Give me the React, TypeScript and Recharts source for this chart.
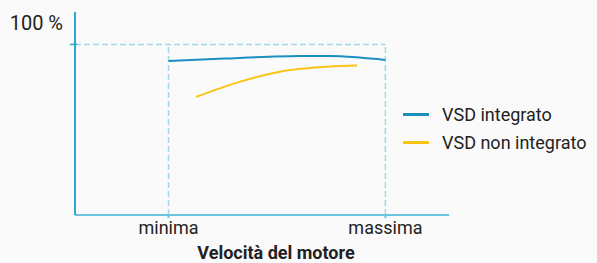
import React from 'react'
import {
  LineChart,
  Line,
  XAxis,
  YAxis,
  ReferenceLine,
  Label,
} from 'recharts'

// Velocità (0 = fermo, 100 = fondo scala)
const speedTicks = [25, 83]
const speedTickLabels = ['minima', 'massima']

const integratoX = [25, 40, 52, 60, 68, 76, 83]
const integratoY = [90.3, 91.7, 92.8, 93.2, 93.2, 92.3, 90.9]

const nonIntegratoX = [32.4, 43.3, 54.8, 68.2, 75.4]
const nonIntegratoY = [69.2, 77.6, 84.0, 87.0, 87.6]

const seriesNames = ['VSD integrato', 'VSD non integrato']

const COLORS = {
  integrato: '#1b8fc0',
  nonIntegrato: '#fbc316',
  yAxis: '#2ba8cf',
  xAxis: '#6ac4dd',
  guide: '#9fd8ec',
  text: '#222222',
}
const seriesColors = [COLORS.integrato, COLORS.nonIntegrato]

const FONT = 'Roboto, "Noto Sans", sans-serif'

const integratoData = integratoX.map((x, i) => ({ x, y: integratoY[i] }))
const nonIntegratoData = nonIntegratoX.map((x, i) => ({ x, y: nonIntegratoY[i] }))

const YTick = (props: any) => {
  const { x, y, payload } = props
  return (
    <g>
      <line x1={x + 3} x2={x + 10} y1={y} y2={y} stroke={COLORS.yAxis} strokeWidth={1.5} />
      <text x={x - 4} y={y - 14} textAnchor="end" fontSize={20} fontFamily={FONT} fill={COLORS.text}>
        {payload.value} %
      </text>
    </g>
  )
}

// legenda disegnata a parte, così non ruba spazio al grafico
const ChartLegend = () => (
  <div style={{ position: 'absolute', left: 403, top: 100, fontFamily: FONT }}>
    {seriesNames.map((name, index) => (
      <div key={name} style={{ display: 'flex', alignItems: 'center', height: 28 }}>
        <span style={{ width: 26, height: 3, background: seriesColors[index], marginRight: 13 }} />
        <span style={{ fontSize: 18, color: COLORS.text }}>{name}</span>
      </div>
    ))}
  </div>
)

export default function App() {
  return (
    <div style={{ position: 'absolute', left: 0, top: 0, width: 597, height: 263, background: '#fafafa' }}>
      <LineChart
        width={597}
        height={263}
        margin={{ top: 12, right: 148, bottom: 0, left: 0 }}
      >
        <XAxis
          type="number"
          dataKey="x"
          domain={[0, 100]}
          ticks={speedTicks}
          tickFormatter={(v) => speedTickLabels[speedTicks.indexOf(v)]}
          height={48}
          stroke={COLORS.xAxis}
          strokeWidth={2}
          tickSize={3}
          tick={{ fontSize: 18, fill: COLORS.text, fontFamily: FONT, dy: 1 }}
          allowDuplicatedCategory={false}
        >
          <Label
            value="Velocità del motore"
            position="insideBottom"
            offset={4}
            dx={14}
            style={{ fontSize: 18, fontWeight: 700, fill: COLORS.text, fontFamily: FONT }}
          />
        </XAxis>
        <YAxis
          type="number"
          domain={[0, 119]}
          ticks={[100]}
          width={75}
          stroke={COLORS.yAxis}
          strokeWidth={2}
          tickLine={false}
          tick={<YTick />}
        />
        <ReferenceLine
          segment={[{ x: 0, y: 100 }, { x: 83, y: 100 }]}
          stroke={COLORS.guide}
          strokeWidth={1.5}
          strokeDasharray="6 3"
        />
        <ReferenceLine
          segment={[{ x: 25, y: 0 }, { x: 25, y: 100 }]}
          stroke={COLORS.guide}
          strokeWidth={1.5}
          strokeDasharray="6 3"
        />
        <ReferenceLine
          segment={[{ x: 83, y: 0 }, { x: 83, y: 100 }]}
          stroke={COLORS.guide}
          strokeWidth={1.5}
          strokeDasharray="6 3"
        />
        <Line
          data={integratoData}
          dataKey="y"
          name={seriesNames[0]}
          type="monotone"
          stroke={COLORS.integrato}
          strokeWidth={2}
          dot={false}
          isAnimationActive={false}
        />
        <Line
          data={nonIntegratoData}
          dataKey="y"
          name={seriesNames[1]}
          type="monotone"
          stroke={COLORS.nonIntegrato}
          strokeWidth={2}
          dot={false}
          isAnimationActive={false}
        />
      </LineChart>
      <ChartLegend />
    </div>
  )
}
